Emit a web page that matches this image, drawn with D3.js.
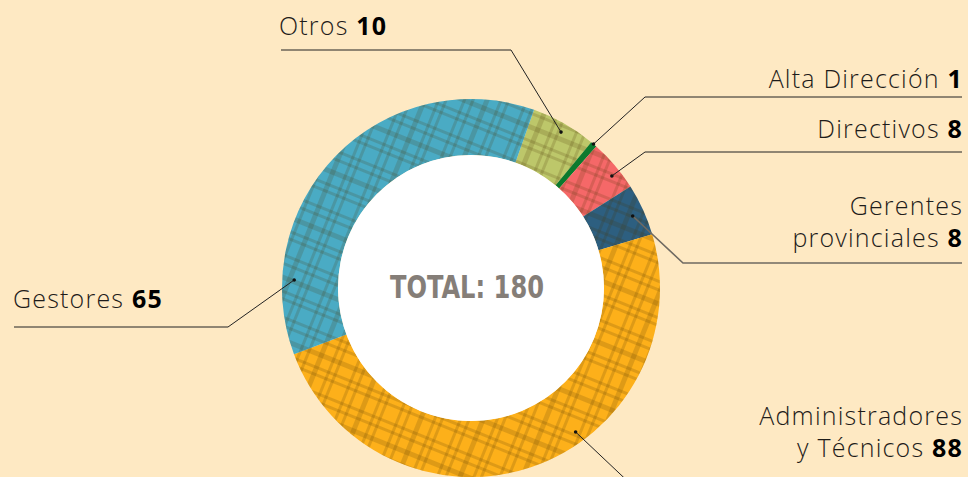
<!DOCTYPE html>
<html>
<head>
<meta charset="utf-8">
<script src="https://cdn.jsdelivr.net/npm/d3@7"></script>
<style>
  html, body { margin: 0; padding: 0; background: #fee9c3; }
  svg { display: block; }
</style>
</head>
<body>
<svg id="chart"></svg>
<script>
// data, in clockwise order starting from the top-right
const categories = ["Otros", "Alta Dirección", "Directivos", "Gerentes provinciales", "Administradores y Técnicos", "Gestores"];
const values = [10, 1, 8, 8, 88, 65];
const colors = ["#bdc76a", "#0b7a2e", "#f56868", "#2d5f80", "#fdb01a", "#4aabc4"];
const total = d3.sum(values);

const width = 968; // pixels
const height = 477; // pixels
const cx = 471, cy = 288;
const outerR = 189, innerR = 133;
const deg = Math.PI / 180;

// label layout (text lines, anchor on the ring, leader elbow)
const labels = [
  {lines: ["Otros"], x: 279, y: 35, anchor: "start", angle: 30, r: 180, elbow: [511, 50], end: [281, 50]},
  {lines: ["Alta Dirección"], x: 963, y: 88, anchor: "end", angle: 40.4, r: 189, elbow: [645, 97], end: [962, 97]},
  {lines: ["Directivos"], x: 963, y: 138, anchor: "end", angle: 51.5, r: 180, elbow: [645, 152], end: [962, 152]},
  {lines: ["Gerentes", "provinciales"], x: 963, y: 215, anchor: "end", angle: 66, r: 177, elbow: [683, 263], end: [962, 263]},
  {lines: ["Administradores", "y Técnicos"], x: 963, y: 425, anchor: "end", angle: 144, r: 178, elbow: [637, 490], end: [962, 490]},
  {lines: ["Gestores"], x: 13, y: 308, anchor: "start", angle: 272.6, r: 177, elbow: [228, 327], end: [14, 327]}
];

const svg = d3.select("#chart")
  .attr("width", width)
  .attr("height", height)
  .attr("viewBox", [0, 0, width, height]);

/**
 * Plaid overlay pattern.
 */
const defs = svg.append("defs");
const tile = 58;
const pat = defs.append("pattern")
  .attr("id", "plaid")
  .attr("patternUnits", "userSpaceOnUse")
  .attr("width", tile)
  .attr("height", tile)
  .attr("patternTransform", "rotate(22)");
const stripes = [[0, 5], [14, 3], [21, 3], [38, 3], [46, 3]];
stripes.forEach(([p, w]) => {
  pat.append("rect").attr("x", 0).attr("y", p).attr("width", tile).attr("height", w).attr("fill", "rgba(70,45,0,0.17)");
  pat.append("rect").attr("x", p).attr("y", 0).attr("width", w).attr("height", tile).attr("fill", "rgba(70,45,0,0.17)");
});

const startAngle = 19.5 * deg;
const pie = d3.pie()
  .sort(null)
  .value(d => d)
  .startAngle(startAngle)
  .endAngle(startAngle + 2 * Math.PI);
const arcs = pie(values);
const arc = d3.arc().innerRadius(innerR).outerRadius(outerR);

const g = svg.append("g").attr("transform", `translate(${cx},${cy})`);

g.selectAll("path.slice")
  .data(arcs)
  .join("path")
  .attr("class", "slice")
  .attr("fill", (d, i) => colors[i])
  .attr("d", arc);

g.selectAll("path.plaid")
  .data(arcs.filter((d, i) => values[i] > 1))
  .join("path")
  .attr("class", "plaid")
  .attr("fill", "url(#plaid)")
  .attr("d", arc);

g.append("circle")
  .attr("r", innerR)
  .attr("fill", "#fff");

g.append("text")
  .attr("x", -4)
  .attr("y", 10)
  .attr("text-anchor", "middle")
  .attr("font-family", "'DejaVu Sans Condensed', 'DejaVu Sans', sans-serif")
  .attr("font-weight", 700)
  .attr("font-size", 32)
  .attr("textLength", 154)
  .attr("lengthAdjust", "spacingAndGlyphs")
  .attr("fill", "#857e78")
  .text(`TOTAL: ${total}`);

/**
 * Leader lines and labels.
 */
const leaders = svg.append("g").attr("fill", "none");
labels.forEach((l, i) => {
  const [px, py] = d3.pointRadial(l.angle * deg, l.r);
  const a = [cx + px, cy + py];
  leaders.append("path")
    .attr("d", d3.line()([a, l.elbow, l.end]))
    .attr("stroke", i === 3 ? "#6f6a62" : "#222")
    .attr("stroke-width", i === 3 ? 1.6 : 1);
  svg.append("circle")
    .attr("cx", a[0]).attr("cy", a[1]).attr("r", 1.8)
    .attr("fill", "#111");

  const t = svg.append("text")
    .attr("text-anchor", l.anchor)
    .attr("font-family", "'Open Sans', sans-serif")
    .attr("font-size", 25)
    .attr("letter-spacing", 1.2)
    .attr("fill", "#1e1c1a");
  l.lines.forEach((s, k) => {
    t.append("tspan")
      .attr("x", l.x)
      .attr("y", l.y + k * 32)
      .attr("font-weight", 300)
      .text(s);
    if (k === l.lines.length - 1) {
      t.append("tspan")
        .attr("font-weight", 700)
        .attr("fill", "#000")
        .text(" " + values[i]);
    }
  });
});
</script>
</body>
</html>
